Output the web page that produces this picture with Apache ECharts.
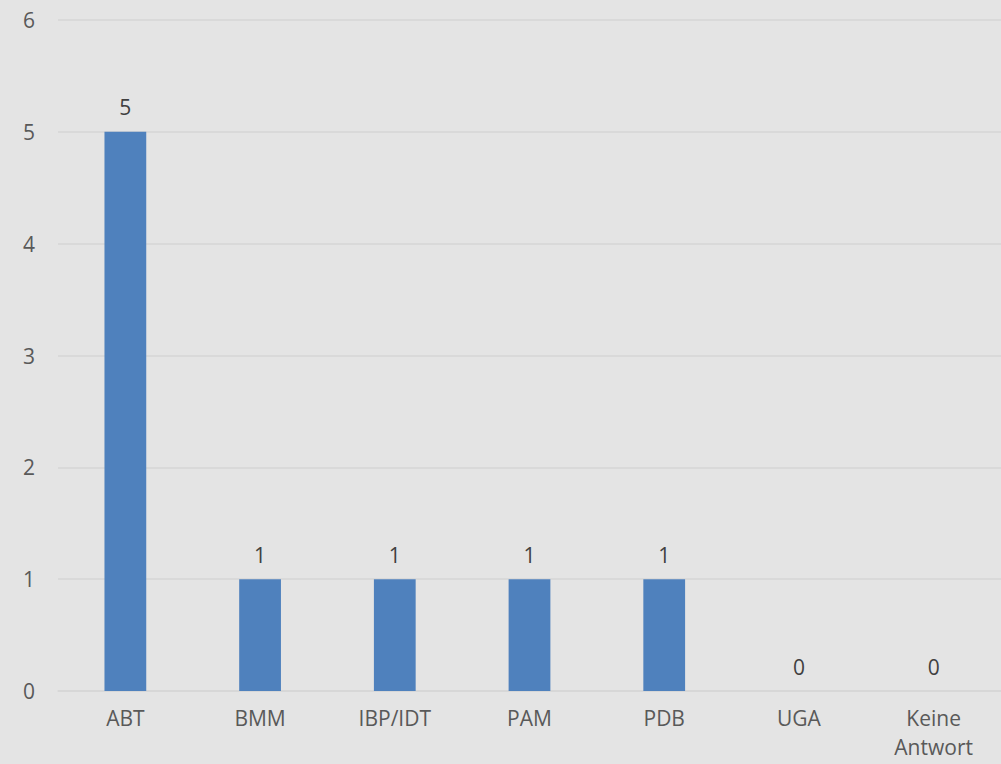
<!DOCTYPE html>
<html>
<head>
<meta charset="utf-8">
<script src="https://cdn.jsdelivr.net/npm/echarts@6/dist/echarts.min.js"></script>
<style>
  html, body { margin: 0; padding: 0; background: #e4e4e4; }
  #chart { width: 1001px; height: 764px; }
</style>
</head>
<body>
<div id="chart"></div>
<script>
const categories = ['ABT', 'BMM', 'IBP/IDT', 'PAM', 'PDB', 'UGA', 'Keine\nAntwort'];
const counts = [5, 1, 1, 1, 1, 0, 0];
const yTicks = [0, 1, 2, 3, 4, 5, 6];

const chart = echarts.init(document.getElementById('chart'), null, { renderer: 'svg' });
const font = '"Open Sans", "Noto Sans", sans-serif';
chart.setOption({
  backgroundColor: '#e4e4e4',
  animation: false,
  grid: { left: 58, right: -6, top: 20, bottom: 73, containLabel: false },
  xAxis: {
    type: 'category',
    data: categories,
    axisLine: { lineStyle: { color: '#d6d6d6', width: 1.5 } },
    axisTick: { show: false },
    axisLabel: { color: '#595959', fontSize: 21, fontFamily: font, margin: 12, lineHeight: 29, interval: 0 },
  },
  yAxis: {
    type: 'value',
    min: yTicks[0], max: yTicks[yTicks.length - 1], interval: 1,
    axisLine: { show: false },
    axisTick: { show: false },
    axisLabel: { color: '#595959', fontSize: 21, fontFamily: font, margin: 23 },
    splitLine: { lineStyle: { color: '#d6d6d6', width: 1.5 } },
  },
  series: [{
    type: 'bar',
    data: counts,
    barWidth: '31%',
    itemStyle: { color: '#4f81bd' },
    label: { show: true, position: 'top', distance: 14, color: '#404040', fontSize: 21, fontFamily: font },
  }],
});
</script>
</body>
</html>
